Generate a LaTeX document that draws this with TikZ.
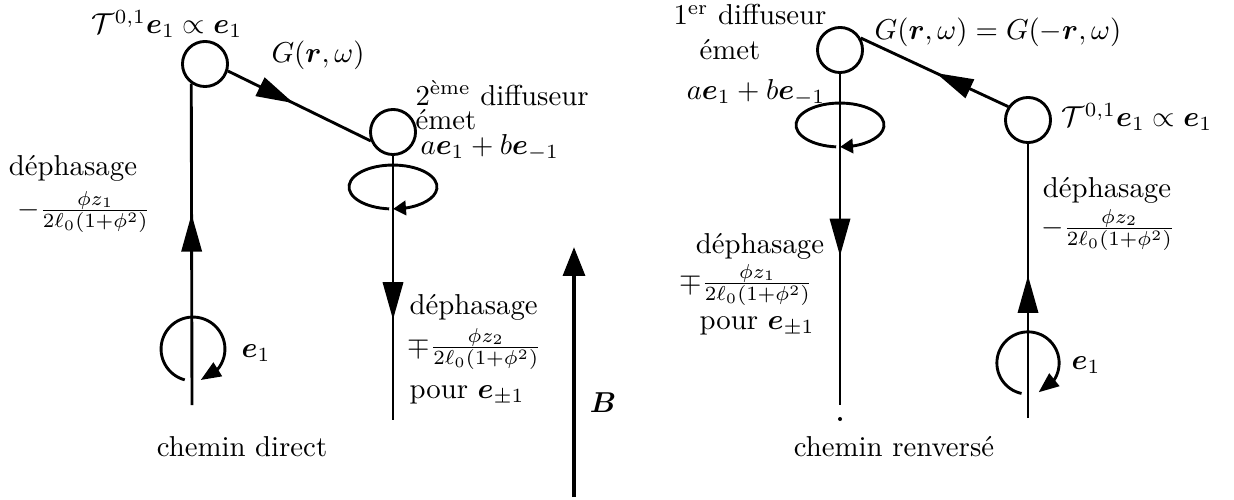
\documentclass[tikz,border=0pt]{standalone}
\usepackage{amsmath,amssymb}
\usepackage{tikz}
\usetikzlibrary{arrows.meta, calc, decorations.markings, bending}
\newcommand{\bv}[1]{\boldsymbol{#1}}
\tikzset{
  diff/.style={circle, draw, line width=1pt, minimum size=0.55cm, inner sep=0pt},
  wire/.style={line width=1pt},
  midarrow/.style={postaction={decorate}, decoration={markings,
      mark=at position #1 with {\arrow{Triangle[length=13pt,width=7pt]}}}},
  spin/.style={line width=1pt, -{Triangle[length=7pt,width=5.5pt]}},
  lbl/.style={inner sep=0pt},
}

\begin{document}
\begin{tikzpicture}[x=0.0122cm, y=-0.0122cm]
  \useasboundingbox (0,0) rectangle (1234,500);

  % chemin direct
  \node[diff] (c1) at (205,64) {};
  \node[diff] (c2) at (393,132) {};
  \coordinate (c1b) at (192,405);
  \coordinate (c2b) at (393,420);
  \draw[wire, midarrow=0.594] (c1b) -- (c1.235);
  \draw[wire, midarrow=0.46] (c1.-17) -- (c2.202);
  \draw[wire, midarrow=0.62] (c2.south) -- (c2b);
  \draw[spin] ([shift={(255:0.39cm)}]193,349) arc[start angle=255, end angle=-76, radius=0.39cm];
  \draw[wire, -{Triangle[length=4.5pt,width=5pt]}] ([shift={(265:0.537cm and 0.268cm)}]393,187)
    arc[start angle=265, end angle=-90, x radius=0.537cm, y radius=0.268cm];

  \node[lbl] (tl) at (167,24) {$\mathcal{T}^{0,1}\bv{e}_1\propto\bv{e}_1$};
  \node[lbl] (gl) at (318,55) {$G(\bv{r},\omega)$};
  \node[lbl, anchor=west] (d2a) at (415,93) {2\textsuperscript{ème} diffuseur};
  \node[lbl, anchor=west] (d2b) at (415,120) {émet};
  \node[lbl, anchor=west] (d2c) at (420,148) {$a\bv{e}_1+b\bv{e}_{-1}$};
  \node[lbl] (phl) at (73,168) {déphasage};
  \node[lbl] (phlv) at (84,212) {$-\frac{\phi z_1}{2\ell_0(1+\phi^2)}$};
  \node[lbl] (el) at (256,353) {$\bv{e}_1$};
  \node[lbl, anchor=west] (phr) at (409,307) {déphasage};
  \node[lbl, anchor=west] (phrv) at (407,349) {$\mp\frac{\phi z_2}{2\ell_0(1+\phi^2)}$};
  \node[lbl, anchor=west] (pr) at (409,395) {pour $\bv{e}_{\pm1}$};
  \node[lbl] (cd) at (242,447) {chemin direct};

  % champ B
  \coordinate (bbot) at (574,497);
  \coordinate (btop) at (574,247);
  \draw[line width=1.4pt, -{Triangle[length=10pt,width=7.5pt]}] (bbot) -- (btop);
  \node[lbl] (bl) at (603,403) {$\bv{B}$};

  % chemin renverse
  \node[diff] (r1) at (840,50) {};
  \node[diff] (r2) at (1028,120) {};
  \coordinate (r1b) at (840,405);
  \coordinate (r2b) at (1028,418);
  \draw[wire, midarrow=0.49] (r2.146) -- (r1.30);
  \draw[wire, midarrow=0.55] (r1.south) -- (r1b);
  \draw[wire, midarrow=0.52] (r2b) -- (r2.south);
  \fill (840,419) circle (0.7pt);
  \draw[spin] ([shift={(258:0.38cm)}]1028,363) arc[start angle=258, end angle=-70, radius=0.38cm];
  \draw[wire, -{Triangle[length=4.5pt,width=5pt]}] ([shift={(265:0.537cm and 0.268cm)}]840,125)
    arc[start angle=265, end angle=-90, x radius=0.537cm, y radius=0.268cm];

  \node[lbl] (r1a) at (750,15) {1\textsuperscript{er} diffuseur};
  \node[lbl] (r1c) at (730,50) {émet};
  \node[lbl] (r1d) at (756,93) {$a\bv{e}_1+b\bv{e}_{-1}$};
  \node[lbl] (gr) at (998,32) {$G(\bv{r},\omega)=G(-\bv{r},\omega)$};
  \node[lbl] (tr) at (1137,117) {$\mathcal{T}^{0,1}\bv{e}_1\propto\bv{e}_1$};
  \node[lbl] (phr2) at (1107,190) {déphasage};
  \node[lbl] (phr2v) at (1108,230) {$-\frac{\phi z_2}{2\ell_0(1+\phi^2)}$};
  \node[lbl] (phl2) at (760,246) {déphasage};
  \node[lbl] (phl2v) at (746,285) {$\mp\frac{\phi z_1}{2\ell_0(1+\phi^2)}$};
  \node[lbl] (pl2) at (757,326) {pour $\bv{e}_{\pm1}$};
  \node[lbl] (er) at (1086,365) {$\bv{e}_1$};
  \node[lbl] (cr) at (894,447) {chemin renversé};
\end{tikzpicture}
\end{document}
